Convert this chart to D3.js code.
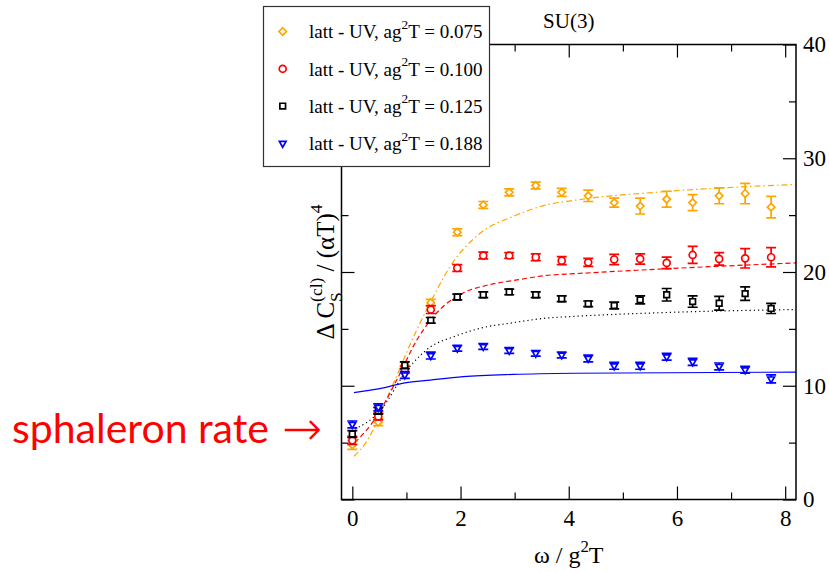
<!DOCTYPE html>
<html>
<head>
<meta charset="utf-8">
<script src="https://cdn.jsdelivr.net/npm/d3@7"></script>
<style>
  body { margin: 0; background: #fff; }
  text { white-space: pre; }
</style>
</head>
<body>
<svg id="chart" width="829" height="572"></svg>
<script>
// Frequencies (omega / g^2 T) shared by all lattice series.
const omega = [0, 0.48, 0.97, 1.45, 1.94, 2.42, 2.90, 3.39, 3.87, 4.36, 4.84, 5.32, 5.81, 6.29, 6.78, 7.26, 7.74];

// Lattice data, one array per ag^2T.
const y075 = [4.8, 6.8, 11.5, 17.3, 23.5, 25.9, 27.0, 27.6, 27.0, 26.7, 26.1, 25.8, 26.4, 26.1, 26.7, 26.9, 25.7];
const e075 = [0.4, 0.3, 0.3, 0.3, 0.3, 0.3, 0.3, 0.3, 0.35, 0.5, 0.4, 0.7, 0.7, 0.7, 0.7, 0.9, 0.95];
const y100 = [5.2, 7.3, 11.4, 16.7, 20.35, 21.45, 21.45, 21.3, 21.0, 20.85, 21.1, 21.15, 20.8, 21.5, 21.15, 21.2, 21.3];
const e100 = [0.35, 0.3, 0.3, 0.35, 0.3, 0.3, 0.25, 0.3, 0.35, 0.35, 0.45, 0.45, 0.5, 0.75, 0.55, 0.85, 0.85];
const y125 = [5.75, 7.8, 11.8, 15.75, 17.8, 18.0, 18.25, 18.0, 17.65, 17.2, 17.05, 17.55, 18.0, 17.4, 17.25, 18.1, 16.8];
const e125 = [0.3, 0.3, 0.3, 0.25, 0.25, 0.25, 0.25, 0.25, 0.25, 0.25, 0.3, 0.35, 0.55, 0.5, 0.6, 0.6, 0.45];
const y188 = [6.6, 8.1, 10.95, 12.65, 13.3, 13.45, 13.1, 12.85, 12.7, 12.4, 11.75, 11.75, 12.55, 12.1, 11.7, 11.4, 10.6];
const e188 = [0.3, 0.3, 0.3, 0.3, 0.25, 0.25, 0.25, 0.25, 0.25, 0.3, 0.3, 0.3, 0.3, 0.3, 0.3, 0.3, 0.35];

// Fit curves as [omega, value] pairs.
const fit075 = [[0.03, 3.8], [0.25, 5.0], [0.73, 9.9], [1.16, 14.6], [1.44, 17.3], [1.81, 20.5], [2.36, 23.4], [2.98, 24.9], [3.59, 25.9], [4.1, 26.3], [5.87, 27.1], [8.2, 27.7]];
const fit100 = [[0.05, 5.0], [0.45, 7.3], [0.82, 10.5], [1.19, 14.0], [1.62, 16.7], [2.05, 18.15], [2.55, 18.9], [3.04, 19.3], [3.59, 19.7], [4.1, 19.85], [5.87, 20.3], [8.2, 20.8]];
const fit125 = [[0.05, 6.2], [0.48, 7.6], [1.03, 11.5], [1.44, 13.4], [1.87, 14.3], [2.36, 15.05], [2.98, 15.55], [3.59, 15.95], [4.1, 16.1], [5.87, 16.45], [8.2, 16.7]];
const fit188 = [[0.03, 9.4], [0.51, 9.75], [0.97, 10.25], [1.44, 10.5], [2.05, 10.8], [2.98, 11.0], [4.1, 11.1], [8.2, 11.2]];

// Legend entries and tick labels.
const legendValues = ["0.075", "0.100", "0.125", "0.188"];
const xMajorTicks = [0, 2, 4, 6, 8];
const xMinorTicks = [1, 3, 5, 7];
const yMajorTicks = [0, 10, 20, 30, 40];
const yMinorTicks = [5, 15, 25, 35];

// Display parameters
const plotLeft = 341.5, plotRight = 796, plotTop = 44.5, plotBottom = 499.5;
const serif = "'Liberation Serif', 'Times New Roman', serif";

const x = d3.scaleLinear().domain([-0.2, 8.2]).range([plotLeft, plotRight]);
const y = d3.scaleLinear().domain([0, 40]).range([plotBottom, plotTop]);

// Series descriptions: values, errors, fit, color, marker, dash style.
const series = [
    {y: y075, e: e075, fit: fit075, color: "#ffa500", marker: "diamond", dash: "6,3,1.5,3"},
    {y: y100, e: e100, fit: fit100, color: "#ff0000", marker: "circle", dash: "5,3"},
    {y: y125, e: e125, fit: fit125, color: "#000000", marker: "square", dash: "1.2,3"},
    {y: y188, e: e188, fit: fit188, color: "#0000ff", marker: "triangle", dash: null}
];

const svg = d3.select("#chart");

// Path for each marker type, centered at 0,0
function markerPath(type){
    if(type === "diamond") return d3.symbol(d3.symbolDiamond2, 36)();
    if(type === "circle") return d3.symbol(d3.symbolCircle, 38)();
    if(type === "square") return d3.symbol(d3.symbolSquare, 32)();
    return d3.symbol(d3.symbolTriangle2, 32)();
}
function markerTransform(type){
    return type === "triangle" ? " rotate(180)" : "";
}

// Draw pieces of text (with super/subscripts) one after another.
// pieces: {t, s (scale), dy (em), stack (same x as previous)}
function richText(g, pieces, size){
    let cur = 0, prevStart = 0, prevW = 0;
    pieces.forEach(p => {
        let start = p.stack ? prevStart : cur;
        let t = g.append("text")
            .attr("x", start)
            .attr("y", (p.dy || 0) * size)
            .style("font-family", serif)
            .style("font-size", (size * (p.s || 1)) + "px")
            .text(p.t);
        let w = t.node().getComputedTextLength();
        if(p.stack){
            cur = prevStart + Math.max(prevW, w);
        } else {
            cur = start + w;
            prevStart = start;
            prevW = w;
        }
    });
    return cur;
}

// Fit curves
const line = d3.line().x(d => x(d[0])).y(d => y(d[1])).curve(d3.curveMonotoneX);
const body = svg.append("g").attr("id", "chartBody");
series.forEach(s => {
    body.append("path")
        .attr("d", line(s.fit))
        .style("fill", "none")
        .style("stroke", s.color)
        .style("stroke-width", 1.2)
        .style("stroke-dasharray", s.dash);
});

// Data with error bars
series.forEach(s => {
    let g = body.append("g");
    omega.forEach((w, i) => {
        let cx = x(w);
        let lo = y(s.y[i] - s.e[i]), hi = y(s.y[i] + s.e[i]);
        g.append("path")
            .attr("d", `M${cx},${lo}V${hi}M${cx - 5},${lo}H${cx + 5}M${cx - 5},${hi}H${cx + 5}`)
            .style("fill", "none")
            .style("stroke", s.color)
            .style("stroke-width", 1.7);
        g.append("path")
            .attr("d", markerPath(s.marker))
            .attr("transform", `translate(${cx},${y(s.y[i])})` + markerTransform(s.marker))
            .style("fill", "white")
            .style("stroke", s.color)
            .style("stroke-width", 1.7);
    });
});

// Axes with inward ticks
function styleAxis(g){
    g.select(".domain").remove();
    g.selectAll("line").style("stroke", "#000").style("stroke-width", 1.2);
    g.selectAll("text").style("font-family", serif).style("font-size", "23px").style("fill", "#000");
}
svg.append("g").attr("transform", `translate(0,${plotBottom})`)
    .call(d3.axisBottom(x).tickValues(xMajorTicks).tickSize(-13).tickPadding(10).tickFormat(d3.format("d"))).call(styleAxis);
svg.append("g").attr("transform", `translate(0,${plotBottom})`)
    .call(d3.axisBottom(x).tickValues(xMinorTicks).tickSize(-7).tickFormat("")).call(styleAxis);
svg.append("g").attr("transform", `translate(0,${plotTop})`)
    .call(d3.axisTop(x).tickValues(xMajorTicks).tickSize(-13).tickFormat("")).call(styleAxis);
svg.append("g").attr("transform", `translate(0,${plotTop})`)
    .call(d3.axisTop(x).tickValues(xMinorTicks).tickSize(-7).tickFormat("")).call(styleAxis);
svg.append("g").attr("transform", `translate(${plotLeft},0)`)
    .call(d3.axisLeft(y).tickValues(yMajorTicks).tickSize(-13).tickFormat("")).call(styleAxis);
svg.append("g").attr("transform", `translate(${plotLeft},0)`)
    .call(d3.axisLeft(y).tickValues(yMinorTicks).tickSize(-7).tickFormat("")).call(styleAxis);
svg.append("g").attr("transform", `translate(${plotRight},0)`)
    .call(d3.axisRight(y).tickValues(yMajorTicks).tickSize(-13).tickPadding(7).tickFormat(d3.format("d"))).call(styleAxis);
svg.append("g").attr("transform", `translate(${plotRight},0)`)
    .call(d3.axisRight(y).tickValues(yMinorTicks).tickSize(-7).tickFormat("")).call(styleAxis);

// Plot frame
svg.append("rect")
    .attr("x", plotLeft).attr("y", plotTop)
    .attr("width", plotRight - plotLeft).attr("height", plotBottom - plotTop)
    .style("fill", "none").style("stroke", "#000").style("stroke-width", 1.5);

// Title
svg.append("text")
    .attr("x", (plotLeft + plotRight) / 2).attr("y", 28)
    .attr("text-anchor", "middle")
    .style("font-family", serif).style("font-size", "21px")
    .text("SU(3)");

// x axis label
let xl = svg.append("g");
let xlw = richText(xl, [{t: "ω / g"}, {t: "2", s: 0.7, dy: -0.45}, {t: "T"}], 24);
xl.attr("transform", `translate(${(plotLeft + plotRight) / 2 - xlw / 2},563)`);

// y axis label
let yl = svg.append("g");
let ylw = richText(yl, [
    {t: "Δ C"},
    {t: "(cl)", s: 0.7, dy: -0.5},
    {t: "S", s: 0.7, dy: 0.3, stack: true},
    {t: " / (αT)"},
    {t: "4", s: 0.7, dy: -0.5}
], 25);
yl.attr("transform", `translate(334,${(plotTop + plotBottom) / 2 + ylw / 2}) rotate(-90)`);

// Legend
let legend = svg.append("g");
legend.append("rect")
    .attr("x", 263.5).attr("y", 6.5).attr("width", 226).attr("height", 160)
    .style("fill", "white").style("stroke", "#333").style("stroke-width", 1.2);
legendValues.forEach((v, i) => {
    let s = series[i];
    let ly = 31.5 + i * 37.3;
    legend.append("path")
        .attr("d", markerPath(s.marker))
        .attr("transform", `translate(282.7,${ly})` + markerTransform(s.marker))
        .style("fill", "white").style("stroke", s.color).style("stroke-width", 1.7);
    let t = legend.append("g").attr("transform", `translate(309,${ly + 6.8})`);
    richText(t, [{t: "latt - UV, ag"}, {t: "2", s: 0.7, dy: -0.5}, {t: "T = " + v}], 19);
});

// Annotation
svg.append("text")
    .attr("x", 12).attr("y", 443)
    .style("font-family", "Lato, 'Open Sans', sans-serif").style("font-size", "41px")
    .style("fill", "#ff0000")
    .text("sphaleron rate");
svg.append("text")
    .attr("x", 282).attr("y", 445)
    .style("font-family", "'DejaVu Sans', sans-serif").style("font-size", "48px")
    .style("font-weight", "200")
    .style("fill", "#ff0000")
    .text("→");
</script>
</body>
</html>
